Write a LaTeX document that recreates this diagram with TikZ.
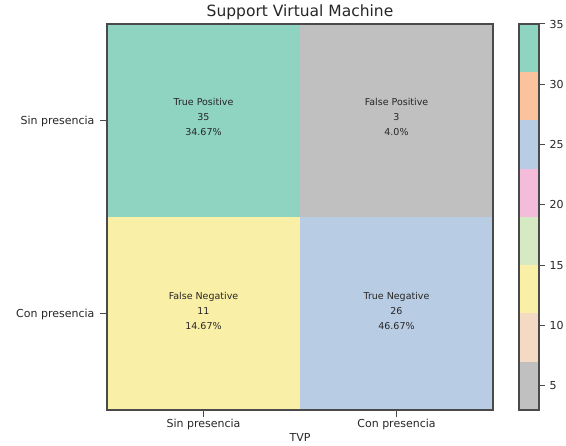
\documentclass[tikz,border=0pt]{standalone}
\usepackage{fontspec}
\setmainfont{DejaVu Sans}
\definecolor{cTeal}{HTML}{8FD3C1}
\definecolor{cGray}{HTML}{C0C0C0}
\definecolor{cYellow}{HTML}{F9EFA6}
\definecolor{cBlue}{HTML}{B8CCE3}
\definecolor{cOrange}{HTML}{FAC29D}
\definecolor{cPink}{HTML}{F2BCDA}
\definecolor{cGreen}{HTML}{D5EAC2}
\definecolor{cPeach}{HTML}{F5DAC3}
\definecolor{cEdge}{HTML}{4A4A4A}
\definecolor{cText}{HTML}{262626}
\begin{document}
\begin{tikzpicture}[x=1pt,y=-1pt,
  celltxt/.style={font=\fontsize{9.5}{15}\selectfont, text=cText, align=center},
  ticktxt/.style={font=\fontsize{11}{13}\selectfont, text=cText},
  tickmark/.style={draw=cEdge, line width=1pt},
  frame/.style={draw=cEdge, line width=1.5pt}]
\useasboundingbox (0,0) rectangle (566,446);
% cells
\fill[cTeal] (107,24) rectangle (300,217);
\fill[cGray] (300,24) rectangle (493,217);
\fill[cYellow] (107,217) rectangle (300,410);
\fill[cBlue] (300,217) rectangle (493,410);
\draw[frame] (107,24) rectangle (493,410);
% cell texts
\node[celltxt] (tp) at (203.5,117) {True Positive\\35\\34.67\%};
\node[celltxt] (fp) at (396.5,117) {False Positive\\3\\4.0\%};
\node[celltxt] (fn) at (203.5,311) {False Negative\\11\\14.67\%};
\node[celltxt] (tn) at (396.5,311) {True Negative\\26\\46.67\%};
% title
\node[font=\fontsize{15.5}{18}\selectfont, text=cText] (title) at (300,12) {Support Virtual Machine};
% y ticks
\draw[tickmark] (100,120.5) -- (107,120.5);
\draw[tickmark] (100,313.5) -- (107,313.5);
\node[ticktxt, anchor=east] (ys) at (98,121) {Sin presencia};
\node[ticktxt, anchor=east] (yc) at (98,314) {Con presencia};
% x ticks
\draw[tickmark] (203.5,410) -- (203.5,417);
\draw[tickmark] (396.5,410) -- (396.5,417);
\node[ticktxt, anchor=base] (xs) at (203.5,428) {Sin presencia};
\node[ticktxt, anchor=base] (xc) at (396.5,428) {Con presencia};
\node[ticktxt, anchor=base] (xl) at (300,442) {TVP};
% colorbar
\fill[cTeal]   (519,24)     rectangle (539,72.25);
\fill[cOrange] (519,72.25)  rectangle (539,120.5);
\fill[cBlue]   (519,120.5)  rectangle (539,168.75);
\fill[cPink]   (519,168.75) rectangle (539,217);
\fill[cGreen]  (519,217)    rectangle (539,265.25);
\fill[cYellow] (519,265.25) rectangle (539,313.5);
\fill[cPeach]  (519,313.5)  rectangle (539,361.75);
\fill[cGray]   (519,361.75) rectangle (539,410);
\draw[frame] (519,24) rectangle (539,410);
\foreach \v in {5,10,...,35}{
  \pgfmathsetmacro{\yy}{24+(35-\v)/32*386}
  \draw[tickmark] (539,\yy) -- (545,\yy);
  \node[ticktxt, anchor=west] (cb\v) at (546,\yy) {\v};
}
\end{tikzpicture}
\end{document}
